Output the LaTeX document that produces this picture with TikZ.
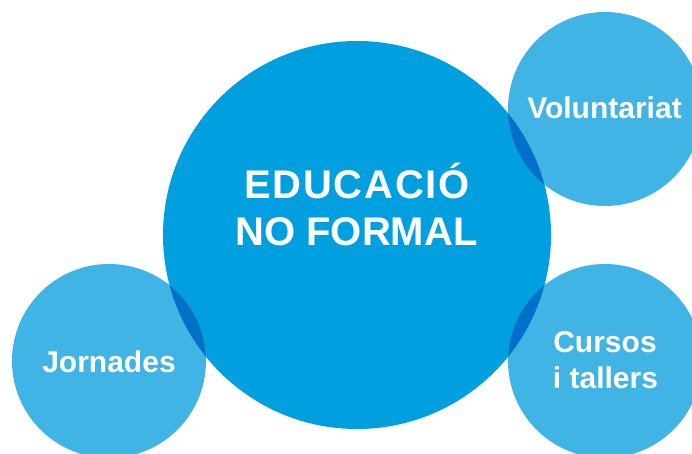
\documentclass[tikz,border=0pt]{standalone}
\usepackage{fontspec}
\setmainfont{Liberation Sans}
\definecolor{bigblue}{HTML}{009FDF}
\definecolor{smallblue}{HTML}{3FB4E5}
\definecolor{overblue}{HTML}{0070C8}
\begin{document}
\begin{tikzpicture}[x=1pt,y=-1pt,
  bigtxt/.style={text=white,font=\fontsize{40}{47}\selectfont\bfseries,inner sep=0pt,anchor=base},
  smalltxt/.style={text=white,font=\fontsize{30}{36}\selectfont\bfseries,inner sep=0pt,anchor=base}]
\useasboundingbox (0,0) rectangle (692,454);
\fill[white] (0,0) rectangle (692,454);
\begin{scope}
\clip (0,0) rectangle (692,454);
\fill[bigblue] (357,235) circle[radius=194];
\fill[smallblue] (605,109) circle[radius=97];
\fill[smallblue] (605,361) circle[radius=97];
\fill[smallblue] (109,361) circle[radius=97];
\begin{scope}
\clip (357,235) circle[radius=194];
\fill[overblue] (605,109) circle[radius=97];
\fill[overblue] (605,361) circle[radius=97];
\fill[overblue] (109,361) circle[radius=97];
\end{scope}
\end{scope}
\node[bigtxt] (l1) at (357,198) {\addfontfeature{LetterSpace=4.5}EDUCACIÓ};
\node[bigtxt] (l2) at (356.5,245) {NO FORMAL};
\node[smalltxt] (jor) at (109,372) {Jornades};
\node[smalltxt] (vol) at (604.5,119) {Voluntariat};
\node[smalltxt] (cur1) at (605,352) {Cursos};
\node[smalltxt] (cur2) at (605.5,388) {i tallers};
\end{tikzpicture}
\end{document}
